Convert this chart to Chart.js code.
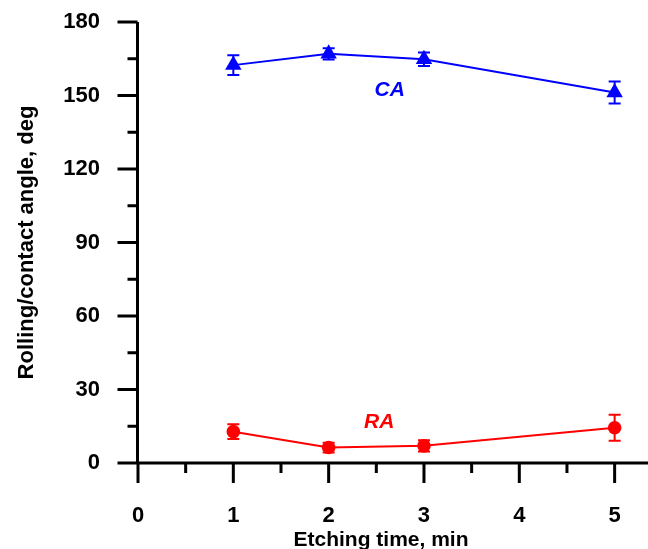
<!DOCTYPE html>
<html>
<head>
<meta charset="utf-8">
<script src="https://cdn.jsdelivr.net/npm/chart.js@4.4.1/dist/chart.umd.min.js"></script>
<style>
html, body { margin: 0; padding: 0; background: #fff; }
canvas { display: block; }
</style>
</head>
<body>
<canvas id="chart" width="648" height="549"></canvas>
<script>
// Data
const etchTimes = [1, 2, 3, 5];
const caValues = [162.4, 167.0, 164.8, 151.2];
const caErrors = [4.0, 2.3, 2.8, 4.5];
const raValues = [12.8, 6.3, 7.0, 14.4];
const raErrors = [3.0, 2.0, 2.3, 5.3];
const xTicks = [0, 1, 2, 3, 4, 5];
const yTicks = [0, 30, 60, 90, 120, 150, 180];

const FONT = "'Liberation Sans', Arial, sans-serif";
const BLUE = "#0000ff";
const RED = "#ff0000";

// axis lines, major/minor ticks and error bars
const axisPlugin = {
    id: "axisPlugin",
    beforeDatasetsDraw(chart) {
        const { ctx, chartArea: a, scales: { x, y } } = chart;
        const ax = a.left - 0.5;
        ctx.save();
        ctx.strokeStyle = "#000";
        ctx.lineWidth = 3;
        ctx.beginPath();
        ctx.moveTo(ax, a.top);
        ctx.lineTo(ax, a.bottom + 1.5);
        ctx.moveTo(ax - 1.5, a.bottom);
        ctx.lineTo(a.right, a.bottom);
        yTicks.forEach((v, i) => {
            const py = y.getPixelForValue(v);
            ctx.moveTo(ax - 20, py);
            ctx.lineTo(ax, py);
            if (i < yTicks.length - 1) {
                const pm = y.getPixelForValue((v + yTicks[i + 1]) / 2);
                ctx.moveTo(ax - 10, pm);
                ctx.lineTo(ax, pm);
            }
        });
        xTicks.forEach((v, i) => {
            const px = x.getPixelForValue(v);
            ctx.moveTo(px, a.bottom);
            ctx.lineTo(px, a.bottom + 20);
            if (i < xTicks.length - 1) {
                const pm = x.getPixelForValue((v + xTicks[i + 1]) / 2);
                ctx.moveTo(pm, a.bottom);
                ctx.lineTo(pm, a.bottom + 10);
            }
        });
        ctx.stroke();

        const bars = [[caValues, caErrors, BLUE], [raValues, raErrors, RED]];
        bars.forEach(([vals, errs, color]) => {
            ctx.strokeStyle = color;
            ctx.lineWidth = 2;
            ctx.beginPath();
            etchTimes.forEach((t, i) => {
                const px = x.getPixelForValue(t);
                const top = y.getPixelForValue(vals[i] + errs[i]);
                const bot = y.getPixelForValue(vals[i] - errs[i]);
                ctx.moveTo(px, top);
                ctx.lineTo(px, bot);
                ctx.moveTo(px - 6, top);
                ctx.lineTo(px + 6, top);
                ctx.moveTo(px - 6, bot);
                ctx.lineTo(px + 6, bot);
            });
            ctx.stroke();
        });
        ctx.restore();
    },
    afterDraw(chart) {
        const { ctx, chartArea: a, scales: { x, y } } = chart;
        ctx.save();
        ctx.font = "italic bold 21px " + FONT;
        ctx.textAlign = "center";
        ctx.textBaseline = "middle";
        ctx.fillStyle = BLUE;
        ctx.fillText("CA", x.getPixelForValue(2.64), y.getPixelForValue(152));
        ctx.fillStyle = RED;
        ctx.fillText("RA", x.getPixelForValue(2.53), y.getPixelForValue(16.8));

        // axis titles
        ctx.fillStyle = "#000";
        ctx.textBaseline = "alphabetic";
        ctx.font = "bold 21px " + FONT;
        ctx.fillText("Etching time, min", 381, 546);
        ctx.font = "bold 22px " + FONT;
        ctx.translate(33, (a.top + a.bottom) / 2);
        ctx.rotate(-Math.PI / 2);
        ctx.fillText("Rolling/contact angle, deg", 0, 0);
        ctx.restore();
    }
};

const noPad = scale => {
    scale.paddingTop = 0;
    scale.paddingBottom = 0;
    scale.paddingLeft = 0;
    scale.paddingRight = 0;
};

new Chart(document.getElementById("chart"), {
    type: "line",
    data: {
        datasets: [{
            label: "CA",
            data: etchTimes.map((t, i) => ({ x: t, y: caValues[i] })),
            borderColor: BLUE,
            backgroundColor: BLUE,
            borderWidth: 2,
            pointStyle: "triangle",
            pointRadius: 9.5,
            pointBorderWidth: 0,
            tension: 0,
        }, {
            label: "RA",
            data: etchTimes.map((t, i) => ({ x: t, y: raValues[i] })),
            borderColor: RED,
            backgroundColor: RED,
            borderWidth: 2,
            pointStyle: "circle",
            pointRadius: 6.8,
            pointBorderWidth: 0,
            tension: 0,
        }],
    },
    options: {
        responsive: false,
        animation: false,
        layout: { autoPadding: false, padding: { top: 22, right: 0, left: 0, bottom: 0 } },
        plugins: { legend: { display: false }, tooltip: { enabled: false } },
        scales: {
            x: {
                type: "linear",
                min: 0,
                max: 5.35,
                afterBuildTicks: scale => { scale.ticks = xTicks.map(v => ({ value: v })); },
                afterFit: scale => { scale.height = 86; noPad(scale); },
                grid: { display: false },
                border: { display: false },
                ticks: { color: "#000", padding: 32, font: { family: FONT, size: 22, weight: "bold" } },
            },
            y: {
                min: 0,
                max: 180,
                afterBuildTicks: scale => { scale.ticks = yTicks.map(v => ({ value: v })); },
                afterFit: scale => { scale.width = 138; noPad(scale); },
                grid: { display: false },
                border: { display: false },
                ticks: { color: "#000", padding: 30, font: { family: FONT, size: 22, weight: "bold" } },
            },
        },
    },
    plugins: [axisPlugin],
});
</script>
</body>
</html>
